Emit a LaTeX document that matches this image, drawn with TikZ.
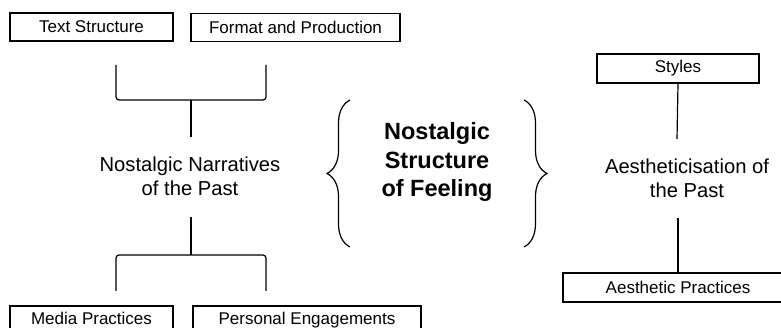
\documentclass[tikz,border=0pt]{standalone}
\usepackage{fontspec}
\setmainfont{Liberation Sans}
\usetikzlibrary{decorations.pathreplacing}
\begin{document}
\begin{tikzpicture}[x=1pt,y=-1pt,
  box/.style={draw, line width=1.2pt, minimum height=28pt, inner sep=0pt,
    font=\fontsize{17}{20}\selectfont},
  label/.style={align=center, inner sep=0pt, font=\fontsize{20.2}{24}\selectfont},
  core/.style={align=center, inner sep=0pt, font=\fontsize{23.5}{28.5}\selectfont\bfseries},
  link/.style={line width=1.2pt, rounded corners=3pt},
  curly/.style={decorate, decoration={brace, amplitude=23pt}, line width=1.2pt}]
\useasboundingbox (0,0) rectangle (781,328);
\clip (0,0) rectangle (781,328);

% left branch: narratives
\node[box, minimum width=163pt] (text) at (91.5,27) {Text Structure};
\node[box, minimum width=209pt] (format) at (295.5,27.5) {Format and Production};
\node[label] (narr) at (190,176) {Nostalgic Narratives\\of the Past};
\node[box, minimum width=163pt, minimum height=24pt] (media) at (91.5,318) {Media Practices};
\node[box, minimum width=228pt] (personal) at (307,320) {Personal Engagements};

\coordinate (tl) at (116,65);
\coordinate (tr) at (266,65);
\coordinate (tj) at (191,100);
\coordinate (ts) at (191,137);
\draw[link] (tl) |- (tj) -| (tr);
\draw[link] (tj) -- (ts);

\coordinate (bl) at (116,291);
\coordinate (br) at (266,291);
\coordinate (bj) at (191,255);
\coordinate (bs) at (191,217);
\draw[link] (bl) |- (bj) -| (br);
\draw[link] (bj) -- (bs);

% centre: structure of feeling between braces
\node[core] (core) at (437,162) {Nostalgic\\Structure\\of Feeling};
\coordinate (lb1) at (350,247);
\coordinate (lb2) at (350,100);
\coordinate (rb1) at (524,100);
\coordinate (rb2) at (524,247);
\draw[curly] (lb1) -- (lb2);
\draw[curly] (rb1) -- (rb2);

% right branch: aestheticisation
\node[box, minimum width=162pt, minimum height=29pt] (styles) at (678,68.5) {Styles};
\node[label] (aes) at (687,178) {Aestheticisation of\\the Past};
\node[box, minimum width=230pt, minimum height=29pt] (aprac) at (678,287.5) {Aesthetic Practices};
\coordinate (as) at (677,139);
\coordinate (ab) at (678,218);
\draw[link] (styles.south) -- (as);
\draw[link] (ab) -- (aprac.north);
\end{tikzpicture}
\end{document}
